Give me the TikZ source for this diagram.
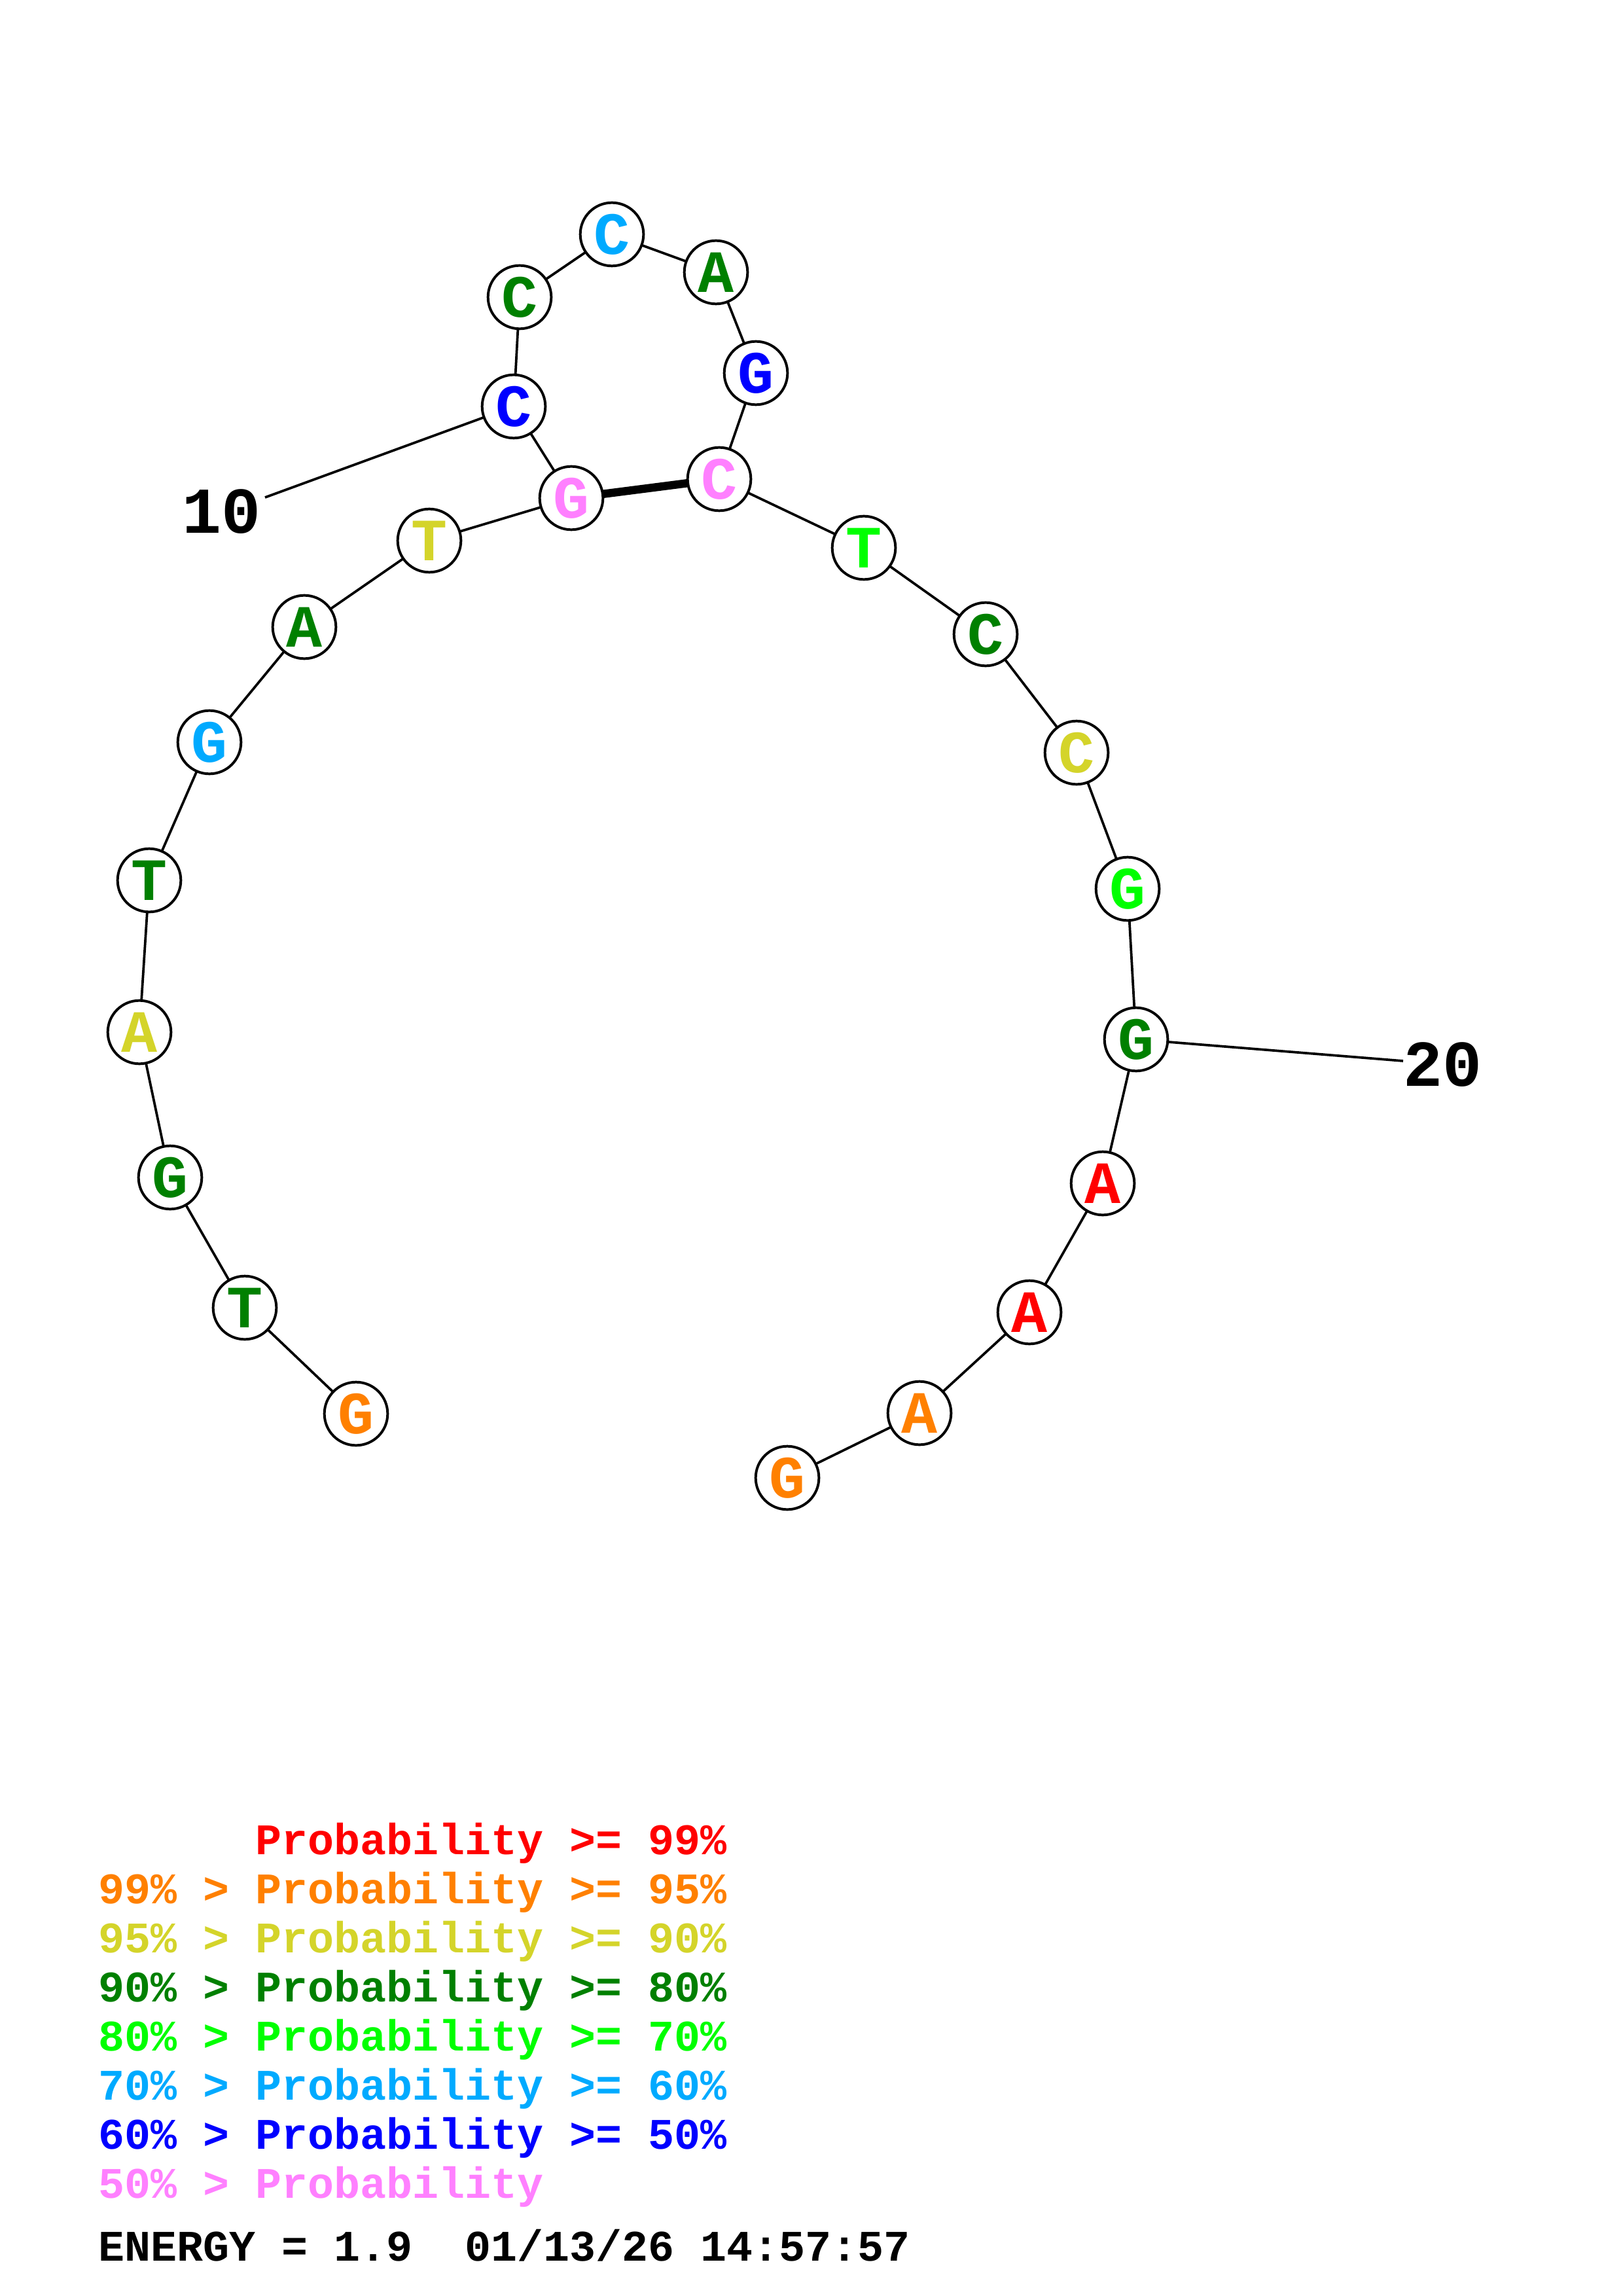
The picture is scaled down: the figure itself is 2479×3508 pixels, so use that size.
\documentclass[tikz,border=0pt]{standalone}
\usepackage{fontspec}
\newfontfamily\cour{Liberation Mono}
\definecolor{cred}{HTML}{FF0000}
\definecolor{corange}{HTML}{FF8000}
\definecolor{cyellow}{HTML}{D4D42A}
\definecolor{cdkgreen}{HTML}{008000}
\definecolor{cgreen}{HTML}{00FF00}
\definecolor{csky}{HTML}{00AAFF}
\definecolor{cblue}{HTML}{0000FF}
\definecolor{cpink}{HTML}{FF80FF}
\tikzset{
  base/.style={circle,draw=black,line width=0.95pt,fill=white,minimum size=23.2pt,inner sep=0pt,
    font=\cour\bfseries\fontsize{22}{22}\selectfont},
  bb/.style={line width=0.9pt,black},
  pairline/.style={line width=3pt,black},
  numlab/.style={font=\cour\bfseries\fontsize{24}{24}\selectfont,inner sep=0pt,anchor=base},
  leg/.style={font=\cour\bfseries\fontsize{16}{16}\selectfont,inner sep=0pt,anchor=base west}
}
\begin{document}
\begin{tikzpicture}[x=0.24pt,y=-0.24pt]
\useasboundingbox (0,0) rectangle (2479,3508);
\coordinate (p1) at (544,2160);
\coordinate (p2) at (374,1998);
\coordinate (p3) at (260,1799);
\coordinate (p4) at (213,1577);
\coordinate (p5) at (228,1345);
\coordinate (p6) at (320,1134);
\coordinate (p7) at (465,958);
\coordinate (p8) at (656,826);
\coordinate (p9) at (873,761);
\coordinate (p10) at (785,621);
\coordinate (p11) at (794,454);
\coordinate (p12) at (935,358);
\coordinate (p13) at (1094,416);
\coordinate (p14) at (1155,570);
\coordinate (p15) at (1099,732);
\coordinate (p16) at (1320,837);
\coordinate (p17) at (1506,969);
\coordinate (p18) at (1645,1150);
\coordinate (p19) at (1723,1358);
\coordinate (p20) at (1736,1588);
\coordinate (p21) at (1685,1808);
\coordinate (p22) at (1573,2005);
\coordinate (p23) at (1405,2159);
\coordinate (p24) at (1203,2258);
\coordinate (e10) at (405,760);
\coordinate (e20) at (2144,1621);
\draw[bb] (p1)--(p2)--(p3)--(p4)--(p5)--(p6)--(p7)--(p8)--(p9)--(p10)--(p11)--(p12)--(p13)--(p14)--(p15)--(p16)--(p17)--(p18)--(p19)--(p20)--(p21)--(p22)--(p23)--(p24);
\draw[pairline] (p9)--(p15);
\draw[bb] (p10)--(e10);
\draw[bb] (p20)--(e20);
\node[base,text=corange] (n1) at (p1) {G};
\node[base,text=cdkgreen] (n2) at (p2) {T};
\node[base,text=cdkgreen] (n3) at (p3) {G};
\node[base,text=cyellow] (n4) at (p4) {A};
\node[base,text=cdkgreen] (n5) at (p5) {T};
\node[base,text=csky] (n6) at (p6) {G};
\node[base,text=cdkgreen] (n7) at (p7) {A};
\node[base,text=cyellow] (n8) at (p8) {T};
\node[base,text=cpink] (n9) at (p9) {G};
\node[base,text=cblue] (n10) at (p10) {C};
\node[base,text=cdkgreen] (n11) at (p11) {C};
\node[base,text=csky] (n12) at (p12) {C};
\node[base,text=cdkgreen] (n13) at (p13) {A};
\node[base,text=cblue] (n14) at (p14) {G};
\node[base,text=cpink] (n15) at (p15) {C};
\node[base,text=cgreen] (n16) at (p16) {T};
\node[base,text=cdkgreen] (n17) at (p17) {C};
\node[base,text=cyellow] (n18) at (p18) {C};
\node[base,text=cgreen] (n19) at (p19) {G};
\node[base,text=cdkgreen] (n20) at (p20) {G};
\node[base,text=cred] (n21) at (p21) {A};
\node[base,text=cred] (n22) at (p22) {A};
\node[base,text=corange] (n23) at (p23) {A};
\node[base,text=corange] (n24) at (p24) {G};
\node[numlab] (l10) at (339,815) {10};
\node[numlab] (l20) at (2204,1659) {20};
\node[leg,text=cred] (g1) at (150,2833) {\hphantom{99\% > }Probability >= 99\%};
\node[leg,text=corange] (g2) at (150,2908) {99\% > Probability >= 95\%};
\node[leg,text=cyellow] (g3) at (150,2983) {95\% > Probability >= 90\%};
\node[leg,text=cdkgreen] (g4) at (150,3058) {90\% > Probability >= 80\%};
\node[leg,text=cgreen] (g5) at (150,3133) {80\% > Probability >= 70\%};
\node[leg,text=csky] (g6) at (150,3208) {70\% > Probability >= 60\%};
\node[leg,text=cblue] (g7) at (150,3283) {60\% > Probability >= 50\%};
\node[leg,text=cpink] (g8) at (150,3358) {50\% > Probability};
\node[leg,text=black] (en) at (150,3454) {ENERGY = 1.9~ 01/13/26 14:57:57};
\end{tikzpicture}
\end{document}
